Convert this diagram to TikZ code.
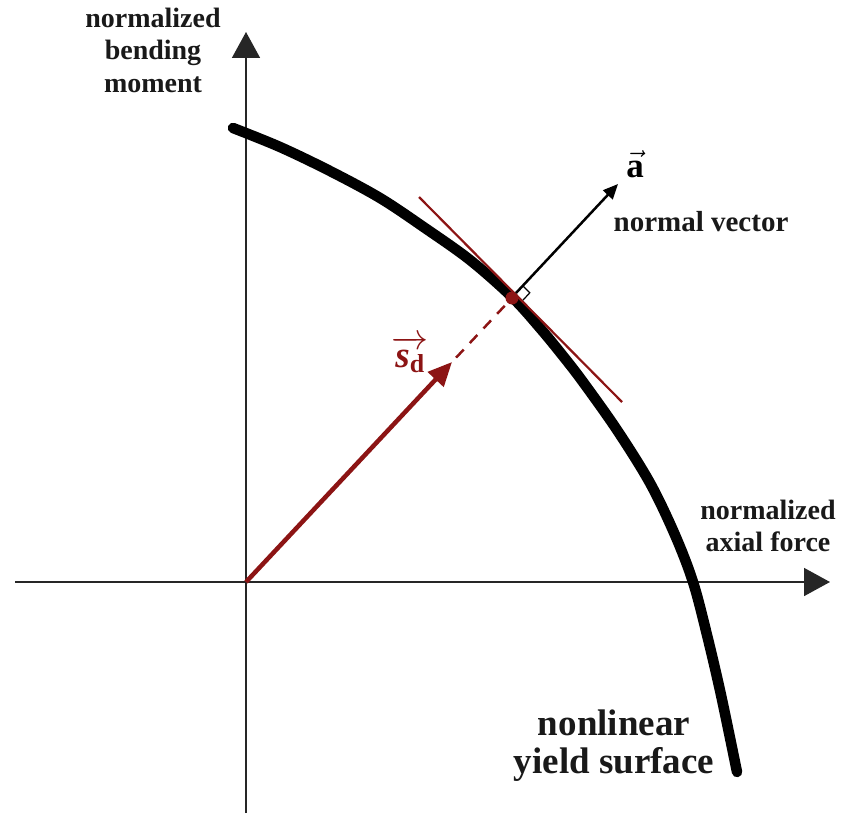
\RequirePackage{fix-cm}
\documentclass[tikz,border=0pt]{standalone}
\usepackage{amsmath}
\usepackage{fontspec}
\setmainfont{Liberation Serif}
\usetikzlibrary{arrows.meta}
\definecolor{vecred}{RGB}{140,20,20}
\tikzset{
  axis/.style={line width=1.6pt,black!85,-{Triangle[length=26pt,width=28pt]}},
  lbl/.style={font=\bfseries\fontsize{28}{32.5}\selectfont,align=center,inner sep=0pt,text=black!90},
}

\begin{document}
\begin{tikzpicture}[x=1pt,y=-1pt]
\useasboundingbox (0,0) rectangle (850,813);
\coordinate (O) at (246,582);
\coordinate (ybot) at (246,813);
\coordinate (ytop) at (246,32);
\coordinate (xleft) at (15,582);
\coordinate (xright) at (830,582);
\coordinate (P) at (512,298);
\coordinate (stip) at (452,362);
\coordinate (nbase) at (516,293);
\coordinate (ntip) at (618,184);
\coordinate (tanA) at (419,197);
\coordinate (tanB) at (622,402);
\draw[axis] (ybot) -- (ytop);
\draw[axis] (xleft) -- (xright);
\draw[line width=10.5pt,line cap=round] plot[smooth,tension=0.55] coordinates {(233,128) (280,147) (330,171) (380,198) (425,228) (470,260) (512,297) (540,328) (563,356) (583,382) (617,430) (650,483) (675,535) (693,582) (707,635) (721,695) (737,772)};
\draw[vecred,line width=2.2pt] (tanA) -- (tanB);
\draw[vecred,line width=4.5pt,-{Triangle[length=24pt,width=21pt]}] (O) -- (stip);
\draw[vecred,line width=2.5pt,dash pattern=on 11pt off 9pt,shorten <=6pt,shorten >=10pt] (stip) -- (P);
\fill[vecred] (P) circle (6.5);
\draw[line width=2.5pt,-{Triangle[length=15pt,width=13pt]}] (nbase) -- (ntip);
\draw[line width=1.2pt] ([shift={(6.8,-7.3)}]nbase) -- ++(7,7.1) -- ++(-6.8,7.3);
\node[lbl] (ylabel) at (153,50) {normalized\\bending\\moment};
\node[lbl] (xlabel) at (768,526) {normalized\\axial force};
\node[lbl,font=\bfseries\fontsize{29}{34}\selectfont] (nlabel) at (701,222) {normal vector};
\node[lbl,font=\bfseries\fontsize{37}{38}\selectfont] (surflabel) at (614,746) {nonlinear\\yield surface};
\node[anchor=base,inner sep=0pt,font=\fontsize{35}{35}\selectfont] (alabel) at (635,177) {$\vec{\textbf{a}}$};
\node[anchor=base,inner sep=0pt,text=vecred,font=\fontsize{37}{37}\selectfont] (slabel) at (410,367) {$\overrightarrow{\textbf{\textit{s}}_{\textbf{d}}}$};
\end{tikzpicture}
\end{document}
